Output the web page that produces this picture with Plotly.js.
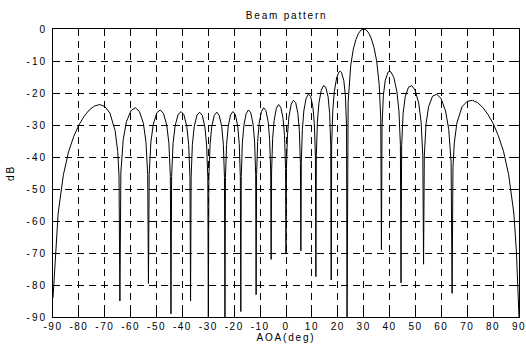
<!DOCTYPE html>
<html>
<head>
<meta charset="utf-8">
<script src="https://cdn.plot.ly/plotly-3.0.1.min.js"></script>
<style>
  html, body { margin: 0; padding: 0; background: #fff; }
  #chart { width: 526px; height: 347px; }
  .gtitle, .xtitle, .ytitle { letter-spacing: 1.8px; }
  .ytick text { letter-spacing: 2px; }
  .xtick text { letter-spacing: 1.5px; }
</style>
</head>
<body>
<div id="chart"></div>
<script>
// Angle of arrival (deg), lobe by lobe
const aoaDeg = [
  -90, -89, -88, -86, -84, -82, -80, -78, -76, -74, -72, -70, -68, -66, -65, -64.5,
  -64.16,
  -63.78, -62.87, -61.64, -59.88, -58.21, -56.61, -55.08, -54.10, -53.42,
  -53.13,
  -52.85, -52.19, -51.26, -49.91, -48.59, -47.31, -46.05, -45.23, -44.67,
  -44.43,
  -44.19, -43.63, -42.84, -41.68, -40.54, -39.42, -38.32, -37.59, -37.09,
  -36.87,
  -36.65, -36.16, -35.45, -34.40, -33.37, -32.34, -31.33, -30.66, -30.20,
  -30,
  -29.80, -29.34, -28.69, -27.71, -26.74, -25.79, -24.83, -24.20, -23.77,
  -23.58,
  -23.39, -22.95, -22.33, -21.41, -20.49, -19.57, -18.66, -18.06, -17.64,
  -17.46,
  -17.28, -16.86, -16.26, -15.37, -14.48, -13.59, -12.71, -12.12, -11.71,
  -11.54,
  -11.36, -10.95, -10.37, -9.50, -8.63, -7.76, -6.89, -6.32, -5.91,
  -5.74,
  -5.57, -5.16, -4.59, -3.73, -2.87, -2.01, -1.15, -0.57, -0.17,
  0,
  0.17, 0.57, 1.15, 2.01, 2.87, 3.73, 4.59, 5.16, 5.57,
  5.74,
  5.91, 6.32, 6.89, 7.76, 8.63, 9.50, 10.37, 10.95, 11.36,
  11.54,
  11.71, 12.12, 12.71, 13.59, 14.48, 15.37, 16.26, 16.86, 17.28,
  17.46,
  17.64, 18.06, 18.66, 19.57, 20.49, 20.98, 21.41, 22.33, 22.95, 23.39,
  23.58,
  23.8, 24, 25, 26, 27, 28, 29, 30, 31, 32, 33, 34, 35, 36, 36.6,
  36.87,
  37.09, 37.59, 38.32, 39.42, 39.94, 40.54, 41.68, 42.84, 43.63, 44.19,
  44.43,
  44.67, 45.23, 46.05, 47.31, 48.59, 49.91, 51.26, 52.19, 52.85,
  53.13,
  53.42, 54.10, 55.08, 56.61, 58.21, 59.88, 61.64, 62.87, 63.78,
  64.16,
  64.5, 65, 66, 68, 70, 72, 74, 76, 78, 80, 82, 84, 86, 88, 89, 90
];

// Beam pattern level (dB) at each angle above
const gainDb = [
  -84, -69.6, -57.5, -45.6, -38.4, -33.6, -30.0, -27.3, -25.3, -24.1, -23.6, -24.2, -26.3, -31.8, -38.3, -45.9,
  -85,
  -44.7, -34.5, -29.0, -25.5, -24.6, -25.8, -29.5, -35.2, -45.5,
  -79.5,
  -45.5, -35.3, -29.8, -26.2, -25.3, -26.4, -30.1, -35.7, -46.1,
  -89,
  -46.1, -35.8, -30.3, -26.7, -25.8, -26.8, -30.5, -36.1, -46.4,
  -85,
  -46.4, -36.1, -30.5, -27.0, -26.0, -27.0, -30.6, -36.2, -46.5,
  -90,
  -46.5, -36.2, -30.6, -27.0, -26.0, -27.0, -30.5, -36.1, -46.4,
  -90,
  -46.4, -36.1, -30.5, -26.8, -25.8, -26.7, -30.3, -35.8, -46.1,
  -88.3,
  -46.1, -35.7, -30.1, -26.4, -25.3, -26.2, -29.8, -35.3, -45.5,
  -83,
  -45.5, -35.2, -29.5, -25.8, -24.6, -25.5, -29.0, -34.5, -44.7,
  -72,
  -44.7, -34.3, -28.6, -24.8, -23.6, -24.5, -27.9, -33.3, -43.6,
  -70,
  -43.5, -33.1, -27.3, -23.5, -22.3, -23.0, -26.4, -31.8, -42.0,
  -69.3,
  -41.8, -31.4, -25.6, -21.7, -20.4, -21.0, -24.3, -29.6, -39.7,
  -77.4,
  -39.6, -29.1, -23.2, -19.2, -17.7, -18.2, -21.2, -26.4, -36.5,
  -78.4,
  -36.2, -25.6, -19.6, -15.2, -13.4, -13.2, -13.5, -16.1, -20.9, -30.7,
  -90,
  -28.8, -22.9, -11.4, -6.3, -3.3, -1.4, -0.3, 0, -0.3, -1.3, -3.1, -5.8, -9.9, -17.3, -28.1,
  -69,
  -30.7, -20.9, -16.1, -13.5, -13.2, -13.4, -15.2, -19.6, -25.6, -36.2,
  -79.3,
  -36.5, -26.4, -21.2, -18.2, -17.7, -19.2, -23.2, -29.1, -39.6,
  -73.5,
  -39.7, -29.6, -24.3, -21.0, -20.4, -21.7, -25.6, -31.4, -41.8,
  -82.6,
  -43.2, -35.7, -29.4, -24.3, -22.6, -22.3, -23.0, -24.5, -26.7, -29.5, -33.3, -38.2, -45.5, -57.5, -69.6, -90
];

const xTickVals = [-90, -80, -70, -60, -50, -40, -30, -20, -10, 0, 10, 20, 30, 40, 50, 60, 70, 80, 90];
const xTickText = ['-90', '-80', '-70', '-60', '-50', '-40', '-30', '-20', '-10', '0', '10', '20', '30', '40', '50', '60', '70', '80', '90'];
const yTickVals = [0, -10, -20, -30, -40, -50, -60, -70, -80, -90];
const yTickText = ['0', '-10', '-20', '-30', '-40', '-50', '-60', '-70', '-80', '-90'];

const font = { family: 'Liberation Sans, Arial, sans-serif', size: 10, color: '#000' };

const axisCommon = {
  showline: true, linecolor: '#000', linewidth: 1, mirror: 'ticks',
  ticks: 'inside', ticklen: 5, tickwidth: 1, tickcolor: '#000',
  showgrid: true, gridcolor: '#000', gridwidth: 1, griddash: '7px,5px',
  zeroline: false, tickmode: 'array', tickfont: font,
  ticklabeloverflow: 'allow'
};

const trace = {
  x: aoaDeg, y: gainDb, type: 'scatter', mode: 'lines',
  line: { color: '#000', width: 1 }, hoverinfo: 'skip'
};

const layout = {
  width: 526, height: 347,
  margin: { l: 53, r: 7, t: 29, b: 30, pad: 0 },
  paper_bgcolor: '#fff', plot_bgcolor: '#fff',
  font: font,
  showlegend: false,
  title: { text: 'Beam pattern', font: font, x: 0.545, xanchor: 'center', y: 0.955, yanchor: 'middle' },
  xaxis: Object.assign({}, axisCommon, {
    range: [-90, 90], tickvals: xTickVals, ticktext: xTickText,
    title: { text: 'AOA(deg)', font: font, standoff: 2 }
  }),
  yaxis: Object.assign({}, axisCommon, {
    range: [-90, 0], tickvals: yTickVals, ticktext: yTickText,
    ticklabelstandoff: 3,
    title: { text: 'dB', font: font, standoff: 10 }
  })
};

Plotly.newPlot('chart', [trace], layout, { displayModeBar: false, staticPlot: true });
</script>
</body>
</html>
